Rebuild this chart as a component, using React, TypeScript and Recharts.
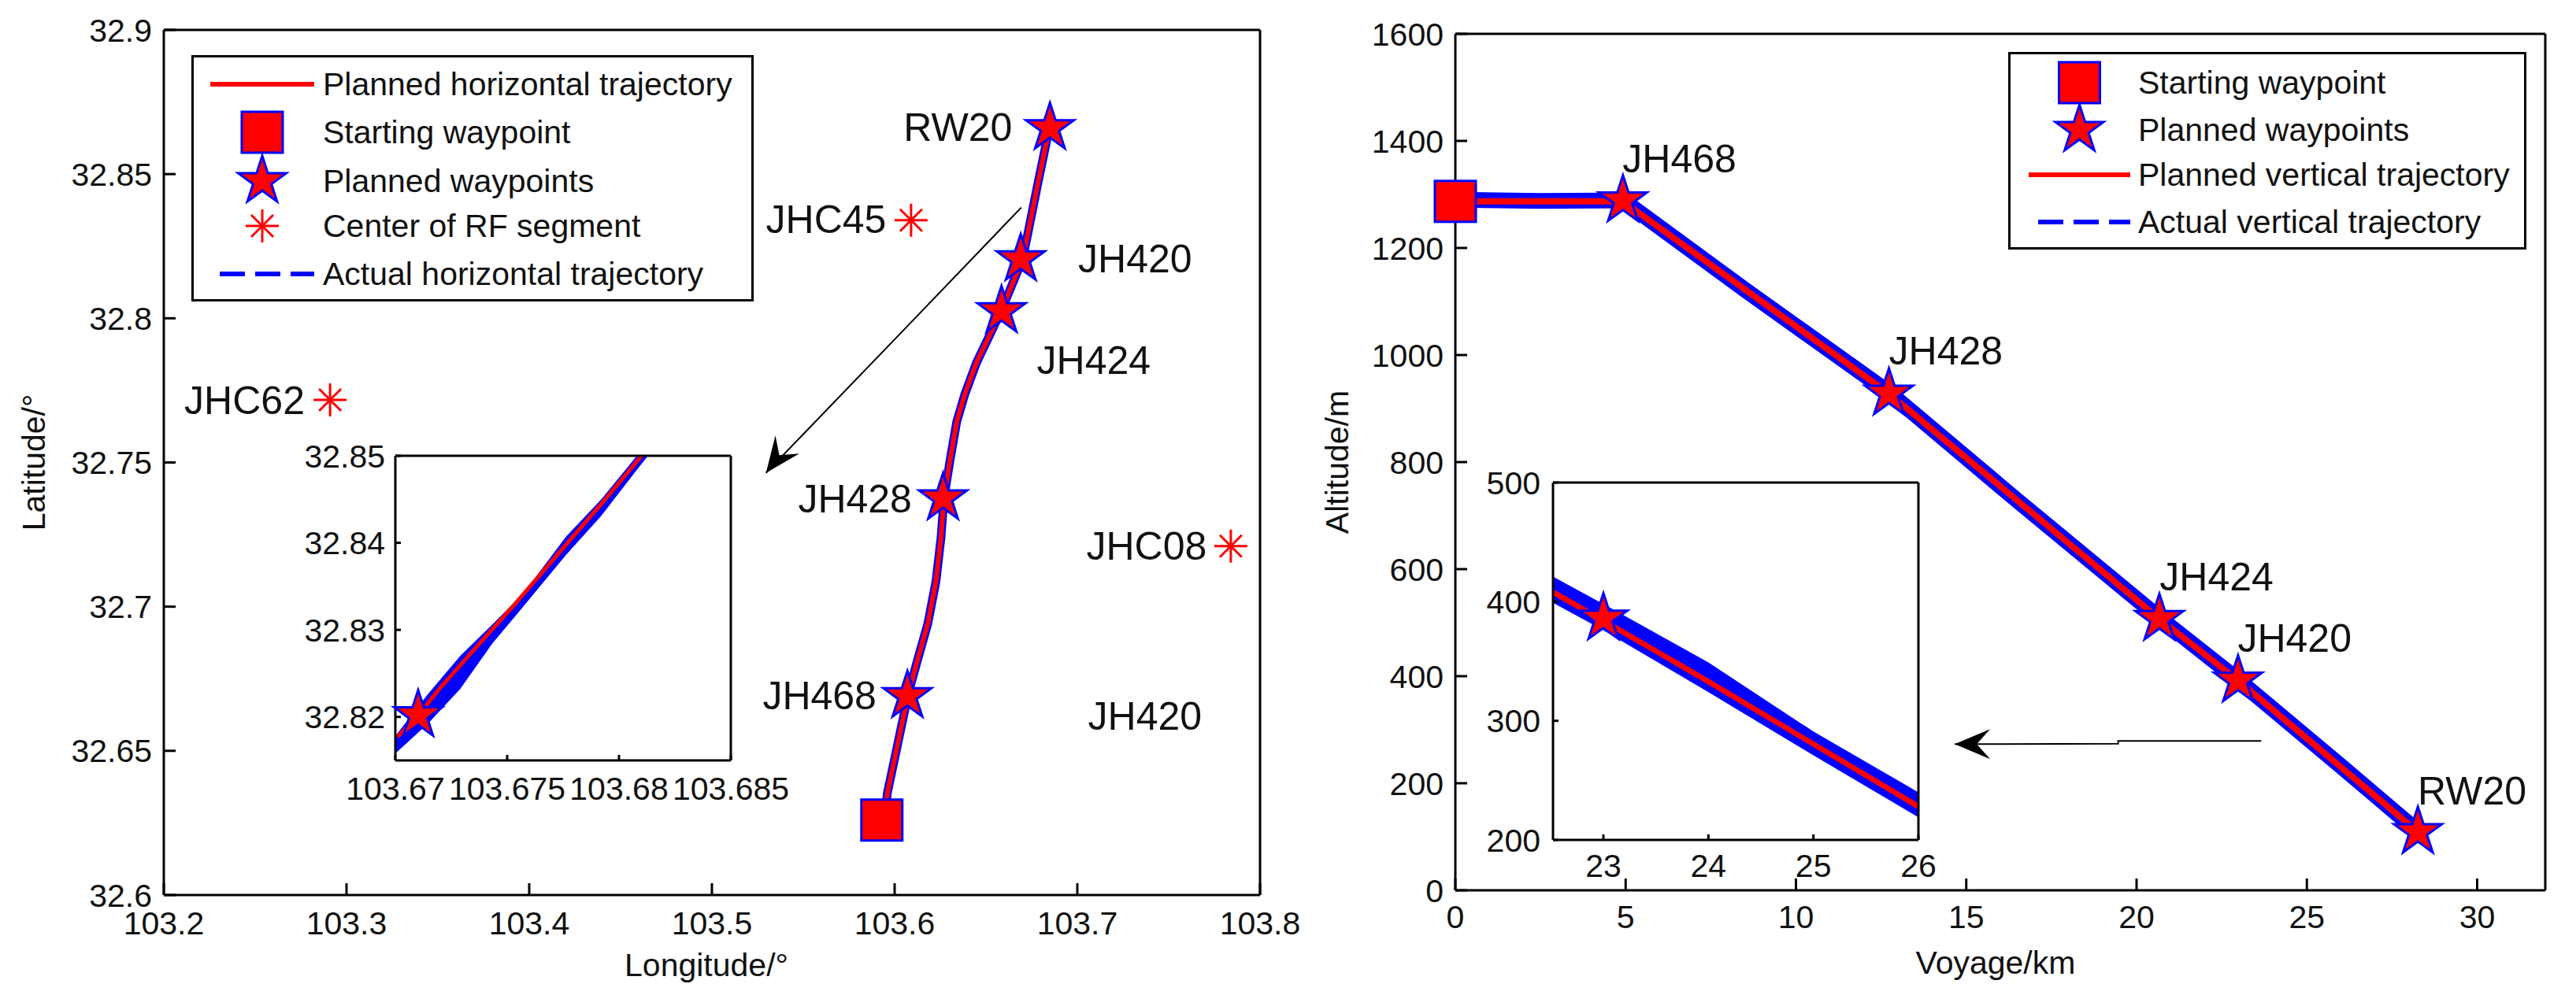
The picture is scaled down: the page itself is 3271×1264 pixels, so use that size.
import React from 'react';
import { ComposedChart, Line, Area, XAxis, YAxis, ReferenceDot, Legend } from 'recharts';

const FONT = '"Liberation Sans", Arial, sans-serif';
const RED = '#ff0000';
const BLUE = '#0000ff';

// left panel, horizontal profile
const lonTicks = [103.2, 103.3, 103.4, 103.5, 103.6, 103.7, 103.8];
const latTicks = [32.6, 32.65, 32.7, 32.75, 32.8, 32.85, 32.9];
const horizontalPath = [
  { lon: 103.5945, lat: 32.6268 }, { lon: 103.596, lat: 32.6353 }, { lon: 103.6017, lat: 32.6524 },
  { lon: 103.6075, lat: 32.6699 }, { lon: 103.6125, lat: 32.6814 }, { lon: 103.6182, lat: 32.6942 },
  { lon: 103.6226, lat: 32.7087 }, { lon: 103.6254, lat: 32.724 }, { lon: 103.627, lat: 32.7377 },
  { lon: 103.6305, lat: 32.7514 }, { lon: 103.634, lat: 32.7642 }, { lon: 103.6384, lat: 32.7736 },
  { lon: 103.6448, lat: 32.7846 }, { lon: 103.652, lat: 32.7941 }, { lon: 103.6589, lat: 32.8034 },
  { lon: 103.67, lat: 32.8204 }, { lon: 103.6736, lat: 32.8315 }, { lon: 103.6779, lat: 32.8452 },
  { lon: 103.685, lat: 32.867 },
];
const horizontalStart = [{ lon: 103.593, lat: 32.626 }];
const horizontalStars = [
  { lon: 103.607, lat: 32.669 }, { lon: 103.6265, lat: 32.7376 }, { lon: 103.6585, lat: 32.8025 },
  { lon: 103.669, lat: 32.8205 }, { lon: 103.685, lat: 32.866 },
];
const rfCenters = [
  { lon: 103.609, lat: 32.834 }, { lon: 103.291, lat: 32.7717 }, { lon: 103.784, lat: 32.721 },
];
const horizontalNames = [
  { name: 'RW20', lon: 103.6346, lat: 32.8663 }, { name: 'JHC45', lon: 103.5625, lat: 32.8344 },
  { name: 'JH420', lon: 103.7316, lat: 32.8208 }, { name: 'JH424', lon: 103.709, lat: 32.7855 },
  { name: 'JHC62', lon: 103.2442, lat: 32.7717 }, { name: 'JH428', lon: 103.5783, lat: 32.7376 },
  { name: 'JHC08', lon: 103.7379, lat: 32.721 }, { name: 'JH468', lon: 103.5589, lat: 32.6693 },
  { name: 'JH420', lon: 103.737, lat: 32.6623 },
];
const horizontalArrow = [
  { lon: 103.6693, lat: 32.8384 }, { lon: 103.6049, lat: 32.7959 }, { lon: 103.5296, lat: 32.7464 },
];

// left inset
const insetLonTicks = [103.67, 103.675, 103.68, 103.685];
const insetLatTicks = [32.82, 32.83, 32.84, 32.85];
const insetPlanned = [
  { lon: 103.6701, lat: 32.8177 }, { lon: 103.67102, lat: 32.8202 }, { lon: 103.67203, lat: 32.8234 },
  { lon: 103.67368, lat: 32.8282 }, { lon: 103.67526, lat: 32.8327 }, { lon: 103.67763, lat: 32.8398 },
  { lon: 103.67922, lat: 32.8445 }, { lon: 103.68101, lat: 32.85 },
];
const insetBand = [
  { lon: 103.67, band: [32.8158, 32.8178] }, { lon: 103.67145, band: [32.8192, 32.8226] },
  { lon: 103.6729, band: [32.8232, 32.827] }, { lon: 103.67433, band: [32.8284, 32.8306] },
  { lon: 103.67576, band: [32.8328, 32.8343] }, { lon: 103.67763, band: [32.8386, 32.8407] },
  { lon: 103.67921, band: [32.8431, 32.845] }, { lon: 103.6808, band: [32.8484, 32.85] },
  { lon: 103.6813, band: [32.85, 32.85] },
];
const insetStar = [{ lon: 103.67102, lat: 32.8202 }];

// right panel, vertical profile
const kmTicks = [0, 5, 10, 15, 20, 25, 30];
const altTicks = [0, 200, 400, 600, 800, 1000, 1200, 1400, 1600];
const verticalPlanned = [
  { km: 0, alt: 1287 }, { km: 4.92, alt: 1287 }, { km: 12.73, alt: 928 },
  { km: 20.67, alt: 507 }, { km: 22.98, alt: 392 }, { km: 28.26, alt: 109 },
];
const verticalActual = [
  { km: 0, alt: 1290 }, { km: 2.5, alt: 1288 }, { km: 4.92, alt: 1289 }, { km: 8.5, alt: 1122 },
  { km: 12.73, alt: 930 }, { km: 16.5, alt: 728 }, { km: 20.67, alt: 509 }, { km: 22.98, alt: 393 },
  { km: 26, alt: 232 }, { km: 28.26, alt: 110 },
];
const verticalStart = [{ km: 0, alt: 1287 }];
const verticalStars = [
  { km: 4.92, alt: 1289 }, { km: 12.73, alt: 928 }, { km: 20.67, alt: 507 },
  { km: 22.98, alt: 392 }, { km: 28.26, alt: 109 },
];
const verticalNames = [
  { name: 'JH468', km: 6.58, alt: 1367 }, { name: 'JH428', km: 14.4, alt: 1008 },
  { name: 'JH424', km: 22.35, alt: 586 }, { name: 'JH420', km: 24.64, alt: 471 },
  { name: 'RW20', km: 29.85, alt: 186 },
];
const verticalArrow = [
  { km: 23.66, alt: 279 }, { km: 19.46, alt: 279 }, { km: 19.46, alt: 274 }, { km: 14.66, alt: 273 },
];

// right inset
const insetKmTicks = [23, 24, 25, 26];
const insetAltTicks = [200, 300, 400, 500];
const insetVertPlanned = [
  { km: 22.52, alt: 408 }, { km: 23, alt: 384 }, { km: 23.98, alt: 334 }, { km: 26, alt: 228 },
];
const insetVertBand = [
  { km: 22.52, band: [399, 421] }, { km: 23, band: [376, 398] }, { km: 24, band: [324, 349] },
  { km: 25, band: [271, 291] }, { km: 26, band: [219, 240] },
];
const insetVertStar = [{ km: 23, alt: 386 }];

const leftLegend = [
  { kind: 'planned', name: 'Planned horizontal trajectory' },
  { kind: 'start', name: 'Starting waypoint' },
  { kind: 'star', name: 'Planned waypoints' },
  { kind: 'rf', name: 'Center of RF segment' },
  { kind: 'actual', name: 'Actual horizontal trajectory' },
];
const rightLegend = [
  { kind: 'start', name: 'Starting waypoint' },
  { kind: 'star', name: 'Planned waypoints' },
  { kind: 'planned', name: 'Planned vertical trajectory' },
  { kind: 'actual', name: 'Actual vertical trajectory' },
];

function starPoints(cx: number, cy: number, r: number) {
  const pts: string[] = [];
  for (let i = 0; i < 10; i++) {
    const rad = i % 2 === 0 ? r : r * 0.382;
    const a = (-90 + i * 36) * (Math.PI / 180);
    pts.push(`${cx + rad * Math.cos(a)},${cy + rad * Math.sin(a)}`);
  }
  return pts.join(' ');
}

const StarDot = (props: any) => (
  <polygon key={props.index} points={starPoints(props.cx, props.cy, 32)} fill={RED} stroke={BLUE} strokeWidth={3} />
);

const SquareDot = (props: any) => (
  <rect key={props.index} x={props.cx - 26} y={props.cy - 26} width={52} height={52} fill={RED} stroke={BLUE} strokeWidth={3} />
);

const Asterisk = ({ cx, cy }: { cx: number; cy: number }) => (
  <g stroke={RED} strokeWidth={3}>
    <line x1={cx - 21} y1={cy} x2={cx + 21} y2={cy} />
    <line x1={cx} y1={cy - 21} x2={cx} y2={cy + 21} />
    <line x1={cx - 14} y1={cy - 14} x2={cx + 14} y2={cy + 14} />
    <line x1={cx - 14} y1={cy + 14} x2={cx + 14} y2={cy - 14} />
  </g>
);

const AsteriskDot = (props: any) => <Asterisk key={props.index} cx={props.cx} cy={props.cy} />;

// arrow heads sit on the last point of the arrow line
const arrowHead = (count: number, angle: number) => (props: any) => {
  if (props.index !== count - 1) return <g key={props.index} />;
  return (
    <polygon
      key={props.index}
      transform={`translate(${props.cx},${props.cy}) rotate(${angle})`}
      points="0,0 45,-19 28,0 45,19"
      fill="#000"
    />
  );
};

function LegendBox({ rows, width, height, rowY, lineX, textX }: any) {
  return (
    <svg width={width} height={height} style={{ display: 'block', overflow: 'visible' }}>
      <rect x={1.5} y={1.5} width={width - 3} height={height - 3} fill="#fff" stroke="#000" strokeWidth={3} />
      {rows.map((row: any, i: number) => {
        const y = rowY[i];
        const mid = (lineX[0] + lineX[1]) / 2;
        return (
          <g key={row.name}>
            {row.kind === 'planned' && <line x1={lineX[0]} y1={y} x2={lineX[1]} y2={y} stroke={RED} strokeWidth={6} />}
            {row.kind === 'actual' && (
              <line x1={lineX[0] + 12} y1={y} x2={lineX[1]} y2={y} stroke={BLUE} strokeWidth={6} strokeDasharray="32 13" />
            )}
            {row.kind === 'start' && <SquareDot cx={mid} cy={y} index={i} />}
            {row.kind === 'star' && <StarDot cx={mid} cy={y} index={i} />}
            {row.kind === 'rf' && <Asterisk cx={mid} cy={y} />}
            <text x={textX} y={y + 14} fontFamily={FONT} fontSize={41} fill="#111">{row.name}</text>
          </g>
        );
      })}
    </svg>
  );
}

const tickFont = { fontFamily: FONT, fontSize: 41, fill: '#111' };
const nameFont = { fontFamily: FONT, fontSize: 50, fill: '#111' };

// box axes: labelled bottom and left, mirrored top and right, all ticks pointing in
function frameAxes(o: any) {
  const line = { stroke: '#000', strokeWidth: o.lineWidth };
  const tickLine = { stroke: '#000', strokeWidth: 3 };
  const xDown = o.tickLen + o.xGap;
  const yOut = o.tickLen + o.yGap;
  return [
    <XAxis key="x" dataKey={o.xKey} type="number" domain={o.xDomain} ticks={o.xTicks} interval={0} height={40}
      tick={tickFont} axisLine={line} tickLine={tickLine} tickSize={-o.tickLen} tickMargin={xDown} label={o.xLabel} />,
    <YAxis key="y" dataKey={o.yKey} type="number" domain={o.yDomain} ticks={o.yTicks} interval={0} width={80}
      tick={tickFont} axisLine={line} tickLine={tickLine} tickSize={-o.tickLen} tickMargin={yOut} label={o.yLabel} />,
    <XAxis key="xt" xAxisId="top" orientation="top" mirror type="number" domain={o.xDomain} ticks={o.xTicks} interval={0}
      tick={false} axisLine={line} tickLine={tickLine} tickSize={o.tickLen} />,
    <YAxis key="yr" yAxisId="right" orientation="right" mirror type="number" domain={o.yDomain} ticks={o.yTicks} interval={0}
      tick={false} axisLine={line} tickLine={tickLine} tickSize={o.tickLen} />,
  ];
}

const titleStyle = { fontFamily: FONT, fontSize: 41, fill: '#111' };

function Stroke({ data, dataKey, color, width }: any) {
  return <Line data={data} dataKey={dataKey} stroke={color} strokeWidth={width} dot={false} isAnimationActive={false} />;
}

function HorizontalPanel() {
  return (
    <div style={{ position: 'absolute', left: 0, top: 0 }}>
      <ComposedChart width={1700} height={1264} margin={{ top: 38, right: 100, bottom: 87, left: 128 }}>
        {frameAxes({
          xKey: 'lon', yKey: 'lat', xDomain: [103.2, 103.8], yDomain: [32.6, 32.9], xTicks: lonTicks, yTicks: latTicks,
          tickLen: 15, xGap: 21, yGap: 15, lineWidth: 3,
          xLabel: { value: 'Longitude/°', position: 'bottom', offset: 34, dx: -7, style: titleStyle },
          yLabel: { value: 'Latitude/°', position: 'insideLeft', angle: -90, offset: -86, style: { ...titleStyle, textAnchor: 'middle' } },
        })}
        <Stroke data={horizontalPath} dataKey="lat" color={BLUE} width={11} />
        <Stroke data={horizontalPath} dataKey="lat" color={RED} width={6} />
        <Line data={horizontalArrow} dataKey="lat" stroke="#000" strokeWidth={2} isAnimationActive={false}
          dot={arrowHead(horizontalArrow.length, -53)} />
        <Line data={horizontalStart} dataKey="lat" stroke="none" dot={SquareDot} isAnimationActive={false} />
        <Line data={horizontalStars} dataKey="lat" stroke="none" dot={StarDot} isAnimationActive={false} />
        <Line data={rfCenters} dataKey="lat" stroke="none" dot={AsteriskDot} isAnimationActive={false} />
        {horizontalNames.map((n) => (
          <ReferenceDot key={n.name + n.lat} x={n.lon} y={n.lat} r={0} stroke="none"
            label={{ value: n.name, position: 'center', ...nameFont }} />
        ))}
        <Legend layout="vertical" align="center" verticalAlign="middle"
          wrapperStyle={{ left: 243, top: 70, width: 714, height: 313 }}
          content={() => (
            <LegendBox rows={leftLegend} width={714} height={313} rowY={[37, 98, 160, 217, 278]} lineX={[24, 156]} textX={167} />
          )} />
      </ComposedChart>
    </div>
  );
}

function HorizontalInset() {
  return (
    <div style={{ position: 'absolute', left: 352, top: 539 }}>
      <ComposedChart width={680} height={507} margin={{ top: 40, right: 104, bottom: 40, left: 70 }}>
        {frameAxes({
          xKey: 'lon', yKey: 'lat', xDomain: [103.67, 103.685], yDomain: [32.815, 32.85], xTicks: insetLonTicks, yTicks: insetLatTicks,
          tickLen: 7, xGap: 21, yGap: 13, lineWidth: 3,
        })}
        <Area data={insetBand} dataKey="band" stroke="none" fill={BLUE} fillOpacity={1} dot={false} activeDot={false} isAnimationActive={false} />
        <Stroke data={insetPlanned} dataKey="lat" color={RED} width={5} />
        <Line data={insetStar} dataKey="lat" stroke="none" dot={StarDot} isAnimationActive={false} />
      </ComposedChart>
    </div>
  );
}

function VerticalPanel() {
  return (
    <div style={{ position: 'absolute', left: 1640, top: 0 }}>
      <ComposedChart width={1631} height={1264} margin={{ top: 43, right: 39, bottom: 93, left: 128 }}>
        {frameAxes({
          xKey: 'km', yKey: 'alt', xDomain: [0, 32], yDomain: [0, 1600], xTicks: kmTicks, yTicks: altTicks,
          tickLen: 15, xGap: 19, yGap: 15, lineWidth: 3,
          xLabel: { value: 'Voyage/km', position: 'bottom', offset: 37, dx: -6, style: titleStyle },
          yLabel: { value: 'Altitude/m', position: 'insideLeft', angle: -90, offset: -71, style: { ...titleStyle, textAnchor: 'middle' } },
        })}
        <Stroke data={verticalActual} dataKey="alt" color={BLUE} width={20} />
        <Stroke data={verticalPlanned} dataKey="alt" color={RED} width={8} />
        <Line data={verticalArrow} dataKey="alt" stroke="#000" strokeWidth={2} isAnimationActive={false}
          dot={arrowHead(verticalArrow.length, 0)} />
        <Line data={verticalStart} dataKey="alt" stroke="none" dot={SquareDot} isAnimationActive={false} />
        <Line data={verticalStars} dataKey="alt" stroke="none" dot={StarDot} isAnimationActive={false} />
        {verticalNames.map((n) => (
          <ReferenceDot key={n.name} x={n.km} y={n.alt} r={0} stroke="none"
            label={{ value: n.name, position: 'center', ...nameFont }} />
        ))}
        <Legend layout="vertical" align="center" verticalAlign="middle"
          wrapperStyle={{ left: 910, top: 66, width: 658, height: 251 }}
          content={() => (
            <LegendBox rows={rightLegend} width={658} height={251} rowY={[39, 99, 156, 216]} lineX={[26, 155]} textX={165} />
          )} />
      </ComposedChart>
    </div>
  );
}

function VerticalInset() {
  return (
    <div style={{ position: 'absolute', left: 1822, top: 573 }}>
      <ComposedChart width={674} height={574} margin={{ top: 40, right: 60, bottom: 40, left: 70 }}>
        {frameAxes({
          xKey: 'km', yKey: 'alt', xDomain: [22.52, 26], yDomain: [200, 500], xTicks: insetKmTicks, yTicks: insetAltTicks,
          tickLen: 7, xGap: 18, yGap: 16, lineWidth: 3,
        })}
        <Area data={insetVertBand} dataKey="band" stroke="none" fill={BLUE} fillOpacity={1} dot={false} activeDot={false} isAnimationActive={false} />
        <Stroke data={insetVertPlanned} dataKey="alt" color={RED} width={7} />
        <Line data={insetVertStar} dataKey="alt" stroke="none" dot={StarDot} isAnimationActive={false} />
      </ComposedChart>
    </div>
  );
}

export default function App() {
  return (
    <div style={{ position: 'absolute', left: 0, top: 0, width: 3271, height: 1264, background: '#fff', overflow: 'hidden' }}>
      <HorizontalPanel />
      <HorizontalInset />
      <VerticalPanel />
      <VerticalInset />
    </div>
  );
}
